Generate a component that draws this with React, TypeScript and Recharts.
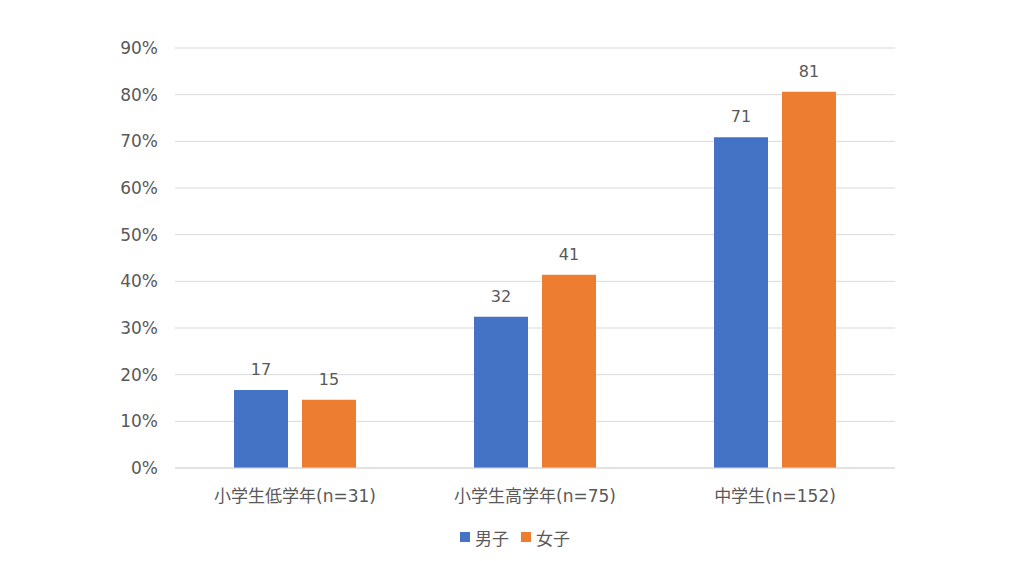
import React from 'react';
import { BarChart, Bar, XAxis, YAxis, CartesianGrid, Legend, LabelList } from 'recharts';

const categories = ['小学生低学年(n=31)', '小学生高学年(n=75)', '中学生(n=152)'];
const boys = [16.7, 32.4, 70.9];
const girls = [14.6, 41.4, 80.6];
const yTicks = [0, 10, 20, 30, 40, 50, 60, 70, 80, 90];

const seriesNames = ['男子', '女子'];
const colors = ['#4472C4', '#ED7D31'];

const data = categories.map((name, i) => ({ name, boys: boys[i], girls: girls[i] }));

const font = '"DejaVu Sans", "Noto Sans CJK JP", sans-serif';
const textColor = '#595959';

function LegendBox() {
    return (
        <div
            style={{
                height: 48,
                display: 'flex',
                justifyContent: 'center',
                alignItems: 'center',
                paddingLeft: 6,
                fontFamily: font,
                fontSize: 17,
                color: textColor,
            }}
        >
            {seriesNames.map((s, i) => (
                <span key={s} style={{ display: 'flex', alignItems: 'center', margin: '0 6px' }}>
                    <span style={{ width: 10, height: 10, background: colors[i], marginRight: 5 }} />
                    {s}
                </span>
            ))}
        </div>
    );
}

export default function App() {
    return (
        <div style={{ width: 1024, height: 561, background: '#fff' }}>
            <style>{'body{margin:0}'}</style>
            <BarChart
                width={1024}
                height={561}
                data={data}
                margin={{ top: 48, right: 129, left: 100, bottom: 0 }}
                barSize={54}
                barGap={14}
            >
                <CartesianGrid vertical={false} stroke="#d9d9d9" />
                <XAxis
                    dataKey="name"
                    height={45}
                    tickLine={false}
                    axisLine={{ stroke: '#d9d9d9' }}
                    tickMargin={16}
                    tick={{ fill: textColor, fontSize: 17, fontFamily: font }}
                />
                <YAxis
                    width={75}
                    domain={[0, 90]}
                    ticks={yTicks}
                    interval={0}
                    axisLine={false}
                    tickLine={false}
                    tickSize={0}
                    tickMargin={17}
                    tickFormatter={(v) => `${v}%`}
                    tick={{ fill: textColor, fontSize: 17, fontFamily: font }}
                />
                <Legend
                    verticalAlign="bottom"
                    wrapperStyle={{ left: 0, width: 1024 }}
                    content={() => <LegendBox />}
                />
                <Bar dataKey="boys" name={seriesNames[0]} fill={colors[0]} isAnimationActive={false}>
                    <LabelList
                        dataKey="boys"
                        position="top"
                        offset={15}
                        formatter={(v: number) => Math.round(v)}
                        style={{ fill: textColor, fontSize: 16, fontFamily: font }}
                    />
                </Bar>
                <Bar dataKey="girls" name={seriesNames[1]} fill={colors[1]} isAnimationActive={false}>
                    <LabelList
                        dataKey="girls"
                        position="top"
                        offset={15}
                        formatter={(v: number) => Math.round(v)}
                        style={{ fill: textColor, fontSize: 16, fontFamily: font }}
                    />
                </Bar>
            </BarChart>
        </div>
    );
}
